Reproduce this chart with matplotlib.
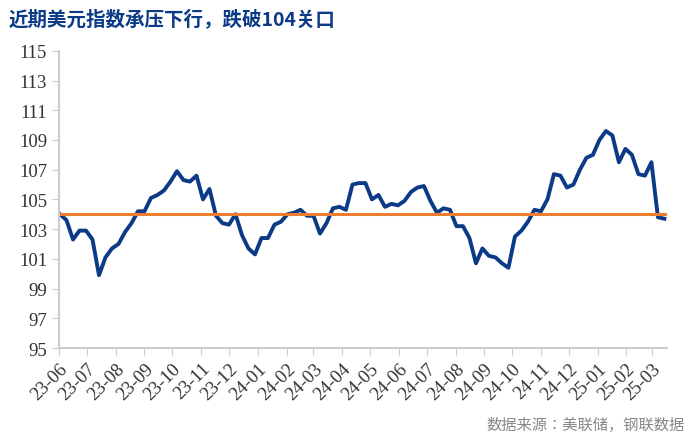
import matplotlib
matplotlib.use('Agg')
import matplotlib.pyplot as plt
import matplotlib.dates as mdates
from matplotlib import font_manager
import pandas as pd

# weekly closes (Fridays)
dxy = [104.0, 103.6, 102.3, 102.9, 102.9,   # 23-06
       102.3, 99.9, 101.1, 101.7,            # 23-07
       102.0, 102.8, 103.4, 104.2,           # 23-08
       104.2, 105.1, 105.3, 105.6, 106.2,    # 23-09
       106.9, 106.3, 106.2, 106.6,           # 23-10
       105.0, 105.7, 103.9, 103.4,           # 23-11
       103.3, 104.0, 102.6, 101.7, 101.3,    # 23-12
       102.4, 102.4, 103.3, 103.5,           # 24-01
       104.0, 104.1, 104.3, 103.9,           # 24-02
       103.9, 102.7, 103.4, 104.4, 104.5,    # 24-03
       104.3, 106.0, 106.1, 106.1,           # 24-04
       105.0, 105.3, 104.5, 104.7, 104.6,    # 24-05
       104.9, 105.5, 105.8, 105.9,           # 24-06
       104.9, 104.1, 104.4, 104.3,           # 24-07
       103.2, 103.2, 102.4, 100.7, 101.7,    # 24-08
       101.2, 101.1, 100.7, 100.4,           # 24-09
       102.5, 102.9, 103.5, 104.3,           # 24-10
       104.2, 105.0, 106.7, 106.6, 105.8,    # 24-11
       106.0, 107.0, 107.8, 108.0,           # 24-12
       109.0, 109.6, 109.3, 107.5, 108.4,    # 25-01
       108.0, 106.7, 106.6, 107.5,           # 25-02
       103.8, 103.7]                         # 25-03
start_date = '2023-06-02'
level = 104
title = '近期美元指数承压下行，跌破104关口'
source = '数据来源：美联储，钢联数据'

# pick whatever CJK family is actually registered
names = sorted({f.name for f in font_manager.fontManager.ttflist})
cjk = [n for n in names if 'CJK' in n] + ['DejaVu Sans']

dates = pd.date_range(start_date, periods=len(dxy), freq='W-FRI')

fig = plt.figure(figsize=(6.95, 4.39), dpi=100)
ax = fig.add_axes([0.085, 0.205, 0.875, 0.677])
ax.plot(dates, dxy, color='#0b3a86', lw=2.8)
ax.axhline(level, color='#ed7d31', lw=2.2)

ax.set_ylim(95, 115)
ax.set_yticks(range(95, 116, 2))
ax.set_xlim(pd.Timestamp('2023-06-01'), pd.Timestamp('2025-03-17'))
ax.xaxis.set_major_locator(mdates.MonthLocator())
ax.xaxis.set_major_formatter(mdates.DateFormatter('%y-%m'))
for lab in ax.get_xticklabels():
    lab.set_rotation(45)
    lab.set_ha('right')
    lab.set_rotation_mode('anchor')
ax.tick_params(labelsize=13.5, colors='#333333', length=5)
ax.tick_params(axis='both', color='#cccccc')
for lab in ax.get_xticklabels() + ax.get_yticklabels():
    lab.set_fontfamily('Liberation Serif')
for s in ['top', 'right']:
    ax.spines[s].set_visible(False)
for s in ['left', 'bottom']:
    ax.spines[s].set_color('#cccccc')
    ax.spines[s].set_linewidth(1.5)

fig.text(0.012, 0.955, title, fontsize=14, fontweight='bold', color='#0b3a86',
         fontfamily=cjk, va='center')
fig.text(0.985, 0.03, source, fontsize=11, color='#888888',
         fontfamily=cjk, ha='right', va='center')

fig.savefig('out.png')
